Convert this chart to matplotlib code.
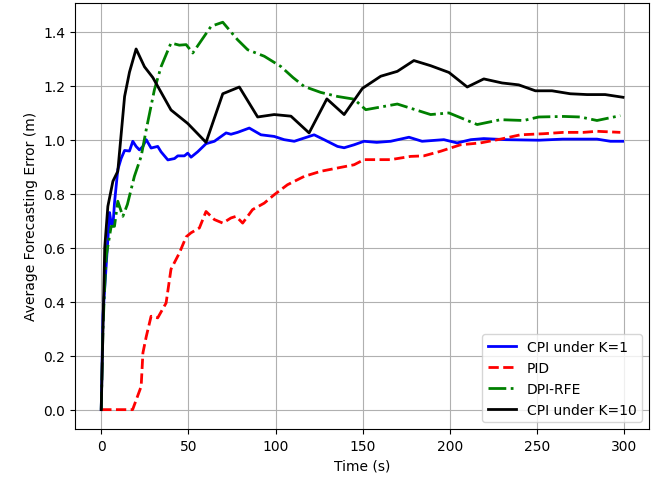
import numpy as np
import matplotlib
matplotlib.use("Agg")
import matplotlib.pyplot as plt

# CPI under K=1 (blue, noisy)
t_cpi1 = [0, 1, 2.9, 4.8, 5.7, 6.7, 7.6, 9.5, 11.4, 13.4, 16.2, 18.1, 20, 21.9, 23.9,
          25.8, 28.6, 32.4, 34.3, 38.2, 42, 43.9, 47.7, 49.6, 51.5, 55.3, 60.1, 64.9,
          71.6, 74.4, 78.2, 84.9, 91.6, 99.2, 104.9, 110.7, 116.4, 122.1, 127.8,
          135.5, 139.3, 145, 150.7, 158, 166, 176.5, 184, 196.5, 204.1, 212, 219.4,
          232, 251, 264.7, 284.3, 292, 299]
e_cpi1 = [0, 0.35, 0.54, 0.73, 0.69, 0.68, 0.765, 0.889, 0.93, 0.96, 0.958, 0.994, 0.975,
          0.962, 0.975, 1.0, 0.969, 0.975, 0.955, 0.925, 0.93, 0.94, 0.94, 0.95,
          0.935, 0.955, 0.985, 0.994, 1.025, 1.02, 1.027, 1.043, 1.018, 1.012, 1.0,
          0.994, 1.006, 1.018, 1.0, 0.975, 0.97, 0.981, 0.994, 0.99, 0.994, 1.009,
          0.994, 1.0, 0.988, 1.0, 1.004, 1.0, 0.998, 1.002, 1.002, 0.994, 0.994]

# PID (red dashed)
t_pid = [0, 10, 18, 22.9, 23.9, 25.8, 28.6, 32.4, 37.2, 40, 44.8, 48.7, 51.5, 56.3,
         60.1, 64.9, 69.7, 74.4, 77.3, 81.1, 86.8, 93.5, 99.2, 106.8, 116.4, 126,
         135.5, 145, 150.7, 166, 177.4, 185, 194.6, 206, 217.5, 229, 240.4, 253.7,
         265, 276.5, 284.3, 297.7]
e_pid = [0, 0, 0, 0.086, 0.21, 0.27, 0.346, 0.34, 0.395, 0.52, 0.58, 0.64, 0.655,
         0.673, 0.734, 0.704, 0.691, 0.71, 0.716, 0.691, 0.741, 0.765, 0.796, 0.833,
         0.864, 0.883, 0.895, 0.907, 0.926, 0.926, 0.938, 0.94, 0.957, 0.981, 0.988,
         1.002, 1.018, 1.022, 1.027, 1.027, 1.031, 1.027]

# DPI-RFE (green dash-dot)
t_dpi = [0, 1, 2, 2.9, 5.7, 7.6, 9.5, 12.4, 15, 19, 22.9, 25.8, 30.5, 34.3, 40,
         44.8, 48.7, 52.5, 63, 69.7, 78.2, 84, 93.5, 103, 110, 116.4, 125.9, 135.5, 145,
         151.7, 169.8, 188.9, 199.4, 215.6, 229, 242.3, 250.9, 265.2, 274.8, 284.3,
         297.7]
e_dpi = [0, 0.3, 0.46, 0.57, 0.679, 0.679, 0.772, 0.716, 0.76, 0.864, 0.938, 1.037, 1.185,
         1.27, 1.358, 1.35, 1.352, 1.321, 1.42, 1.435, 1.37, 1.333, 1.309, 1.271,
         1.23, 1.197, 1.175, 1.16, 1.150, 1.111, 1.132, 1.093, 1.099, 1.056, 1.074,
         1.071, 1.084, 1.086, 1.084, 1.071, 1.089]

# CPI under K=10 (black)
t_cpi10 = [0, 1, 2, 3.8, 6.7, 9.5, 13.4, 16.2, 20, 24.8, 29.6, 40, 49.6, 60.1, 69.7,
           79.2, 89.7, 99.2, 108.8, 119.2, 129.4, 139.3, 149.8, 160.3, 169.8, 179.3,
           188.9, 199.4, 209.9, 219.4, 229.9, 239.4, 249, 258.5, 269, 278.6, 289,
           299.2]
e_cpi10 = [0, 0.3, 0.6, 0.753, 0.846, 0.883, 1.16, 1.25, 1.336, 1.27, 1.23, 1.11, 1.06,
           0.99, 1.17, 1.195, 1.084, 1.093, 1.087, 1.025, 1.151, 1.093, 1.19, 1.235,
           1.253, 1.293, 1.274, 1.249, 1.195, 1.225, 1.21, 1.203, 1.181, 1.181, 1.170,
           1.167, 1.167, 1.157]

fig = plt.figure(figsize=(6.65, 4.81), dpi=100)
ax = fig.add_axes([0.113, 0.106, 0.863, 0.886])

ax.plot(t_cpi1, e_cpi1, 'b-', linewidth=2, label='CPI under K=1')
ax.plot(t_pid, e_pid, 'r--', linewidth=2, label='PID')
ax.plot(t_dpi, e_dpi, 'g-.', linewidth=2, label='DPI-RFE')
ax.plot(t_cpi10, e_cpi10, 'k-', linewidth=2, label='CPI under K=10')

ax.set_xlabel('Time (s)')
ax.set_ylabel('Average Forecasting Error (m)')
ax.grid(True)
ax.legend(loc='lower right')

fig.savefig('out.png', dpi=100)
